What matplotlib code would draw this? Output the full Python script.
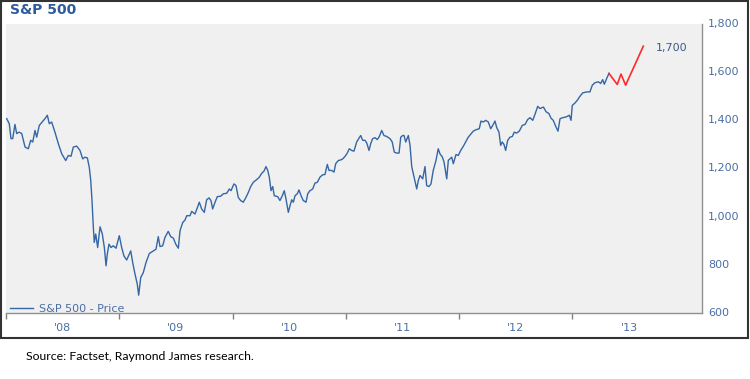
import matplotlib
matplotlib.use("Agg")
import matplotlib.pyplot as plt
from matplotlib.patches import Rectangle
from matplotlib.ticker import FixedLocator, FuncFormatter

# ---- data (decimal year, index level) ----
years = [2008.006, 2008.029, 2008.044, 2008.059, 2008.079, 2008.094, 2008.115, 2008.139,
         2008.168, 2008.197, 2008.218, 2008.236, 2008.256, 2008.271, 2008.294, 2008.324,
         2008.344, 2008.365, 2008.382, 2008.403, 2008.432, 2008.462, 2008.492, 2008.527,
         2008.550, 2008.574, 2008.594, 2008.624, 2008.653, 2008.677, 2008.697, 2008.718,
         2008.735, 2008.748, 2008.759, 2008.771, 2008.779, 2008.792, 2008.809, 2008.830,
         2008.850, 2008.868, 2008.883, 2008.894, 2008.909, 2008.927, 2008.947, 2008.971,
         2009.000, 2009.021, 2009.041, 2009.065, 2009.101, 2009.118, 2009.139, 2009.159,
         2009.171, 2009.189, 2009.212, 2009.236, 2009.265, 2009.300, 2009.324, 2009.344,
         2009.359, 2009.383, 2009.403, 2009.432, 2009.454, 2009.477, 2009.498, 2009.521,
         2009.536, 2009.560, 2009.580, 2009.595, 2009.624, 2009.639, 2009.668, 2009.688,
         2009.706, 2009.727, 2009.750, 2009.771, 2009.792, 2009.809, 2009.824, 2009.845,
         2009.865, 2009.895, 2009.918, 2009.948, 2009.971, 2009.986, 2010.012, 2010.030,
         2010.050, 2010.071, 2010.094, 2010.118, 2010.139, 2010.160, 2010.183, 2010.213,
         2010.236, 2010.257, 2010.277, 2010.295, 2010.310, 2010.324, 2010.339, 2010.354,
         2010.368, 2010.398, 2010.418, 2010.439, 2010.456, 2010.471, 2010.492, 2010.507,
         2010.522, 2010.536, 2010.551, 2010.571, 2010.586, 2010.604, 2010.624, 2010.648,
         2010.663, 2010.683, 2010.707, 2010.727, 2010.748, 2010.771, 2010.795, 2010.815,
         2010.836, 2010.851, 2010.875, 2010.895, 2010.910, 2010.933, 2010.957, 2010.972,
         2010.992, 2011.012, 2011.030, 2011.051, 2011.071, 2011.095, 2011.118, 2011.131,
         2011.148, 2011.169, 2011.184, 2011.204, 2011.219, 2011.236, 2011.257, 2011.277,
         2011.295, 2011.316, 2011.336, 2011.360, 2011.389, 2011.409, 2011.427, 2011.448,
         2011.469, 2011.484, 2011.501, 2011.513, 2011.528, 2011.551, 2011.566, 2011.581,
         2011.595, 2011.625, 2011.639, 2011.654, 2011.678, 2011.698, 2011.713, 2011.733,
         2011.751, 2011.771, 2011.795, 2011.815, 2011.830, 2011.851, 2011.866, 2011.890,
         2011.904, 2011.934, 2011.948, 2011.972, 2011.992, 2012.013, 2012.036, 2012.057,
         2012.080, 2012.101, 2012.124, 2012.148, 2012.177, 2012.192, 2012.213, 2012.234,
         2012.257, 2012.278, 2012.296, 2012.316, 2012.331, 2012.351, 2012.366, 2012.380,
         2012.395, 2012.410, 2012.428, 2012.448, 2012.469, 2012.486, 2012.507, 2012.530,
         2012.557, 2012.581, 2012.604, 2012.625, 2012.649, 2012.669, 2012.693, 2012.713,
         2012.744, 2012.766, 2012.792, 2012.810, 2012.830, 2012.852, 2012.872, 2012.890,
         2012.913, 2012.943, 2012.972, 2012.987, 2012.998, 2013.022, 2013.042, 2013.066,
         2013.090, 2013.125, 2013.154, 2013.175, 2013.198, 2013.228, 2013.249, 2013.266,
         2013.281, 2013.302, 2013.322]
prices = [1407, 1386, 1324, 1324, 1383, 1345, 1351, 1345,
          1289, 1282, 1317, 1310, 1358, 1330, 1379, 1396,
          1407, 1421, 1386, 1393, 1351, 1303, 1261, 1233,
          1254, 1251, 1289, 1293, 1275, 1240, 1247, 1244,
          1205, 1150, 1067, 955, 893, 928, 872, 958,
          928, 872, 796, 845, 886, 872, 879, 869,
          921, 872, 837, 820, 858, 810, 761, 719,
          674, 747, 768, 810, 847, 858, 865, 917,
          876, 879, 914, 939, 917, 911, 886, 869,
          942, 976, 986, 1004, 1004, 1022, 1011, 1036,
          1060, 1032, 1018, 1070, 1078, 1067, 1032, 1060,
          1083, 1085, 1095, 1097, 1115, 1108, 1136, 1129,
          1080, 1067, 1060, 1080, 1101, 1125, 1143, 1154,
          1164, 1180, 1189, 1208, 1192, 1164, 1108, 1125,
          1087, 1083, 1067, 1087, 1108, 1074, 1018, 1046,
          1070, 1060, 1087, 1095, 1111, 1087, 1067, 1060,
          1095, 1108, 1115, 1139, 1143, 1164, 1174, 1175,
          1217, 1192, 1192, 1185, 1220, 1233, 1236, 1240,
          1250, 1264, 1282, 1275, 1272, 1310, 1328, 1337,
          1317, 1317, 1306, 1275, 1303, 1324, 1328, 1320,
          1333, 1358, 1337, 1333, 1324, 1310, 1268, 1264,
          1264, 1330, 1337, 1337, 1310, 1337, 1296, 1208,
          1178, 1115, 1150, 1171, 1157, 1208, 1129, 1125,
          1136, 1192, 1233, 1282, 1261, 1248, 1227, 1157,
          1234, 1247, 1220, 1258, 1254, 1275, 1292, 1310,
          1330, 1342, 1355, 1361, 1365, 1397, 1393, 1400,
          1393, 1365, 1379, 1397, 1370, 1351, 1296, 1310,
          1300, 1275, 1317, 1330, 1333, 1351, 1347, 1355,
          1379, 1383, 1403, 1411, 1400, 1425, 1458, 1449,
          1455, 1436, 1428, 1409, 1400, 1375, 1355, 1407,
          1411, 1414, 1421, 1400, 1462, 1472, 1483, 1500,
          1514, 1518, 1518, 1546, 1556, 1560, 1553, 1569,
          1550, 1574, 1595]

proj_years = [2013.322, 2013.366, 2013.395, 2013.428, 2013.469, 2013.625]
proj_prices = [1595, 1567, 1549, 1592, 1546, 1708]

target_label = "1,700"
target_value = 1700

year_ticks = [2008, 2009, 2010, 2011, 2012, 2013]
year_labels = ["'08", "'09", "'10", "'11", "'12", "'13"]
y_ticks = [600, 800, 1000, 1200, 1400, 1600, 1800]

# ---- figure ----
W, H = 750, 379
fig = plt.figure(figsize=(W / 100, H / 100), dpi=100)
fig.patch.set_facecolor("white")

ax = fig.add_axes([6 / W, 1 - 313 / H, 696 / W, 289 / H])
ax.set_facecolor("#f0f0f0")

blue = "#3566a5"
text_blue = "#4a6fa5"

ax.plot(years, prices, color=blue, lw=1.0, label="S&P 500 - Price")
ax.plot(proj_years, proj_prices, color="#ff2a2a", lw=1.2)

ax.set_xlim(2008, 2014.143)
ax.set_ylim(600, 1800)

# x axis: ticks at year boundaries, labels centered in each year
ax.xaxis.set_major_locator(FixedLocator(year_ticks))
ax.xaxis.set_major_formatter(FuncFormatter(lambda v, p: ""))
ax.xaxis.set_minor_locator(FixedLocator([y + 0.5 for y in year_ticks]))
ax.set_xticklabels(year_labels, minor=True)
ax.tick_params(axis="x", which="major", direction="out", length=4, width=1, color="#808080")
ax.tick_params(axis="x", which="minor", length=0, pad=7, labelsize=8, labelcolor=text_blue)

# y axis on right
ax.yaxis.tick_right()
ax.set_yticks(y_ticks)
ax.set_yticklabels([f"{v:,}" for v in y_ticks])
ax.tick_params(axis="y", length=0, pad=4.5, labelsize=8, labelcolor=text_blue)
for lbl in ax.get_yticklabels():
    lbl.set_verticalalignment("center")

for s in ["top", "left"]:
    ax.spines[s].set_visible(False)
ax.spines["right"].set_color("#909090")
ax.spines["bottom"].set_color("#909090")
ax.spines["right"].set_linewidth(1)
ax.spines["bottom"].set_linewidth(1)

# annotation at end of projection
ax.annotate(target_label, xy=(proj_years[-1], target_value), xytext=(9, 0),
            textcoords="offset points", fontsize=8, color="#3d5a88",
            va="center", ha="left")

# legend
leg = ax.legend(loc="lower left", frameon=False, fontsize=8, handlelength=2.0,
                borderaxespad=0.0, bbox_to_anchor=(0.0, -0.02), handletextpad=0.55)
for t in leg.get_texts():
    t.set_color(text_blue)

# title
fig.text(10 / W, 1 - 10 / H, "S&P 500", fontsize=10, fontweight="bold",
         color="#2e5c9b", ha="left", va="center")

# outer frame
fig.patches.append(Rectangle((1 / W, 1 - 338 / H), 747 / W, 337 / H,
                             transform=fig.transFigure, fill=False,
                             edgecolor="#333333", linewidth=1.5))

# source
fig.text(26 / W, 1 - 357 / H, "Source: Factset, Raymond James research.",
         fontsize=8.8, family=["Lato", "DejaVu Sans"], color="black",
         ha="left", va="center")

fig.savefig("out.png", dpi=100)
